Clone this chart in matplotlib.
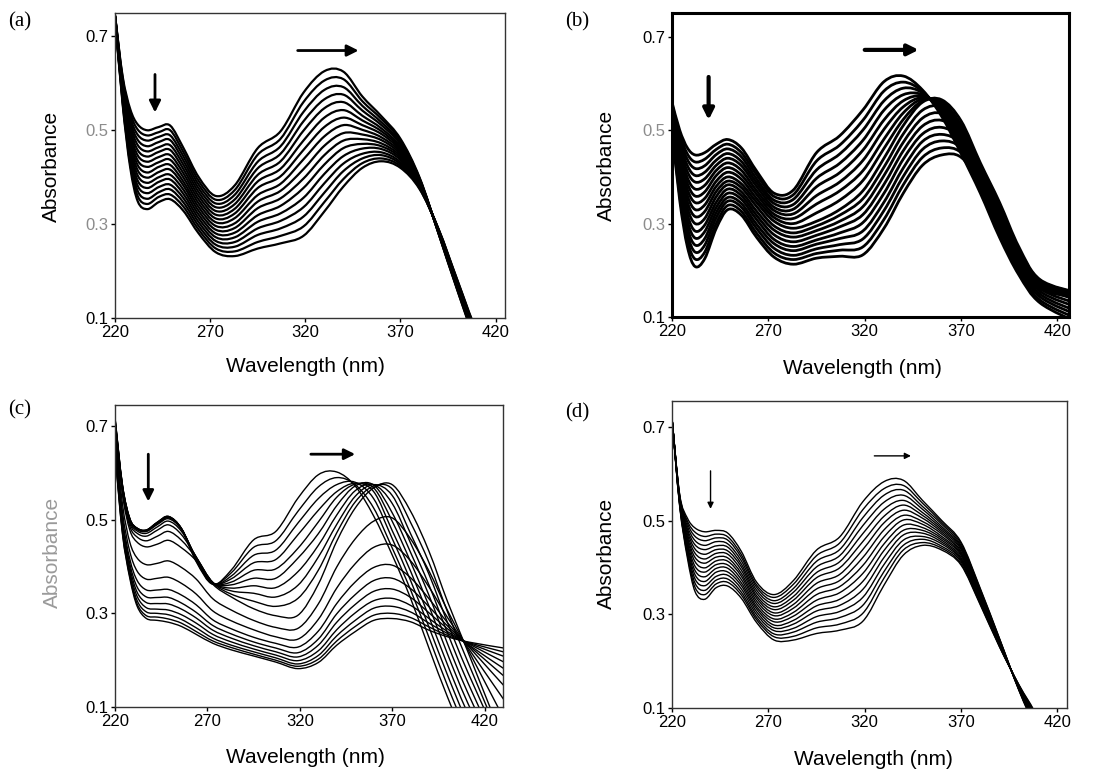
import numpy as np
import matplotlib.pyplot as plt
from matplotlib.path import Path
from matplotlib.patches import PathPatch

plt.rcParams['font.family'] = ['Liberation Sans', 'DejaVu Sans']

# wavelengths (nm) where each scan is sampled
wl = [220, 224, 228, 232, 237, 243, 249, 256, 264, 273, 283, 295,
      307, 319, 330, 340, 350, 360, 370, 380, 390, 400, 411, 432]

# absorbance x1000: one row per wavelength, one column per scan
scans_a = [
    [745, 745, 744, 744, 744, 743, 743, 743, 742, 742, 742, 741, 741, 741, 740, 740],
    [615, 611, 607, 603, 599, 595, 591, 587, 583, 579, 575, 571, 567, 563, 559, 555],
    [545, 537, 528, 520, 512, 503, 495, 487, 478, 470, 462, 453, 445, 437, 428, 420],
    [512, 501, 490, 479, 468, 457, 446, 435, 425, 414, 403, 392, 381, 370, 359, 348],
    [500, 489, 478, 466, 455, 444, 433, 422, 410, 399, 388, 377, 366, 354, 343, 332],
    [507, 496, 486, 475, 464, 454, 443, 432, 422, 411, 400, 390, 379, 368, 358, 347],
    [510, 500, 489, 479, 468, 458, 447, 437, 426, 416, 405, 395, 384, 374, 363, 353],
    [462, 453, 444, 435, 426, 417, 408, 399, 390, 382, 373, 364, 355, 346, 337, 328],
    [400, 392, 384, 376, 368, 360, 352, 344, 336, 328, 320, 312, 304, 296, 288, 280],
    [360, 352, 344, 336, 328, 320, 312, 304, 296, 288, 280, 272, 264, 256, 248, 240],
    [383, 373, 363, 353, 343, 333, 323, 313, 302, 292, 282, 272, 262, 252, 242, 232],
    [462, 448, 433, 419, 405, 391, 377, 362, 348, 334, 319, 305, 291, 277, 262, 248],
    [498, 482, 466, 450, 434, 418, 402, 386, 371, 355, 339, 323, 307, 291, 275, 259],
    [580, 560, 539, 519, 499, 478, 458, 438, 417, 397, 377, 356, 336, 316, 295, 275],
    [626, 606, 586, 566, 547, 527, 507, 487, 467, 447, 427, 407, 387, 367, 347, 327],
    [625, 609, 592, 576, 560, 543, 527, 511, 494, 478, 462, 445, 429, 413, 396, 380],
    [572, 562, 552, 542, 531, 521, 511, 501, 491, 481, 471, 461, 450, 440, 430, 420],
    [530, 524, 517, 511, 504, 498, 492, 485, 479, 472, 466, 460, 453, 447, 440, 434],
    [482, 478, 474, 470, 465, 461, 457, 453, 449, 445, 441, 437, 432, 428, 424, 420],
    [400, 398, 397, 395, 393, 392, 390, 388, 387, 385, 383, 382, 380, 378, 377, 375],
    [280, 281, 281, 282, 283, 283, 284, 285, 285, 286, 287, 287, 288, 289, 289, 290],
    [158, 159, 161, 162, 164, 165, 167, 168, 170, 171, 173, 174, 176, 177, 179, 180],
    [35, 37, 39, 40, 42, 44, 46, 48, 49, 51, 53, 55, 57, 58, 60, 62],
    [-150, -149, -147, -146, -145, -143, -142, -141, -139, -138, -137, -135, -134, -133, -131, -130],
]

scans_b = [
    [560, 556, 553, 549, 545, 541, 538, 534, 530, 526, 523, 519, 515, 511, 508, 504, 500],
    [500, 491, 483, 474, 465, 456, 448, 439, 430, 420, 410, 400, 390, 380, 370, 360, 350],
    [462, 449, 437, 424, 411, 398, 386, 373, 360, 346, 333, 319, 305, 291, 278, 264, 250],
    [447, 432, 418, 403, 389, 374, 359, 345, 330, 315, 300, 284, 269, 254, 239, 224, 208],
    [452, 438, 424, 410, 396, 382, 368, 354, 340, 326, 311, 297, 283, 268, 254, 239, 225],
    [470, 459, 448, 436, 425, 414, 403, 391, 380, 369, 358, 346, 335, 324, 313, 301, 290],
    [480, 470, 460, 450, 440, 430, 420, 410, 400, 391, 383, 374, 365, 356, 348, 339, 330],
    [462, 452, 443, 433, 424, 414, 404, 395, 385, 377, 368, 360, 352, 343, 335, 326, 318],
    [412, 404, 395, 387, 379, 370, 362, 353, 345, 336, 326, 317, 308, 298, 289, 279, 270],
    [365, 358, 350, 343, 335, 328, 320, 313, 305, 295, 286, 276, 266, 257, 247, 237, 228],
    [372, 362, 352, 341, 331, 321, 311, 300, 290, 280, 271, 261, 251, 242, 232, 223, 213],
    [452, 434, 415, 397, 379, 360, 342, 323, 305, 295, 285, 275, 265, 256, 246, 236, 226],
    [488, 468, 449, 429, 409, 389, 370, 350, 330, 318, 305, 293, 280, 268, 255, 243, 230],
    [543, 521, 500, 478, 457, 435, 413, 392, 370, 353, 336, 319, 302, 284, 267, 250, 233],
    [604, 584, 563, 543, 522, 502, 481, 461, 440, 421, 403, 384, 365, 346, 328, 309, 290],
    [616, 603, 590, 576, 563, 550, 537, 523, 510, 492, 474, 456, 438, 419, 401, 383, 365],
    [586, 583, 580, 576, 573, 570, 567, 563, 560, 543, 526, 509, 492, 476, 459, 442, 425],
    [529, 534, 538, 543, 547, 552, 556, 561, 565, 550, 536, 521, 506, 491, 477, 462, 447],
    [450, 459, 468, 476, 485, 494, 503, 511, 520, 510, 501, 491, 481, 471, 462, 452, 442],
    [365, 373, 381, 389, 398, 406, 414, 422, 430, 424, 419, 413, 408, 402, 396, 391, 385],
    [270, 279, 289, 298, 308, 317, 326, 336, 345, 339, 334, 328, 323, 317, 311, 306, 300],
    [190, 198, 205, 213, 220, 228, 235, 243, 250, 245, 240, 235, 230, 225, 220, 215, 210],
    [130, 136, 143, 149, 155, 161, 168, 174, 180, 178, 175, 173, 170, 168, 165, 163, 160],
    [85, 93, 101, 109, 118, 126, 134, 142, 150, 149, 148, 146, 145, 144, 143, 141, 140],
]

scans_c = [
    [718, 717, 715, 714, 712, 711, 709, 708, 706, 705, 689, 676, 666, 660, 654, 650, 646, 643, 640],
    [575, 574, 573, 572, 571, 569, 567, 564, 560, 555, 534, 517, 504, 496, 489, 483, 478, 473, 470],
    [503, 502, 502, 501, 500, 499, 496, 492, 486, 478, 452, 432, 416, 406, 398, 390, 384, 379, 375],
    [482, 482, 481, 481, 480, 479, 476, 471, 463, 452, 418, 390, 370, 356, 345, 336, 327, 320, 315],
    [478, 478, 478, 477, 476, 475, 471, 465, 455, 442, 404, 373, 350, 335, 323, 312, 303, 295, 289],
    [495, 495, 494, 493, 492, 490, 485, 478, 465, 448, 407, 375, 350, 334, 321, 309, 300, 292, 285],
    [507, 507, 506, 505, 504, 502, 497, 489, 475, 456, 412, 377, 351, 334, 320, 307, 297, 288, 281],
    [480, 481, 481, 481, 480, 479, 475, 468, 456, 440, 398, 364, 339, 322, 309, 297, 287, 279, 272],
    [410, 412, 414, 416, 418, 419, 420, 420, 418, 412, 373, 341, 318, 302, 290, 279, 269, 261, 255],
    [362, 363, 363, 364, 365, 365, 366, 366, 365, 362, 331, 305, 286, 274, 264, 255, 247, 241, 236],
    [393, 387, 380, 374, 367, 361, 354, 348, 341, 335, 307, 284, 267, 256, 247, 239, 232, 227, 222],
    [457, 441, 424, 408, 392, 375, 359, 343, 326, 310, 285, 265, 249, 239, 231, 224, 218, 213, 209],
    [475, 455, 435, 415, 395, 375, 355, 335, 315, 295, 270, 250, 236, 226, 218, 211, 205, 200, 196],
    [546, 518, 493, 468, 439, 418, 389, 360, 332, 296, 268, 245, 228, 216, 207, 199, 192, 187, 182],
    [596, 570, 545, 520, 495, 470, 445, 420, 392, 362, 320, 287, 262, 245, 232, 220, 210, 202, 195],
    [602, 590, 575, 560, 548, 530, 510, 490, 472, 454, 399, 354, 321, 299, 281, 265, 252, 241, 232],
    [572, 575, 580, 578, 576, 572, 562, 550, 538, 525, 459, 406, 367, 340, 319, 301, 285, 272, 261],
    [508, 525, 545, 560, 568, 574, 575, 575, 572, 568, 497, 441, 398, 370, 347, 327, 311, 296, 285],
    [425, 440, 460, 477, 497, 515, 535, 552, 566, 575, 504, 446, 403, 375, 352, 332, 315, 300, 289],
    [332, 350, 370, 390, 410, 430, 450, 470, 494, 518, 459, 412, 376, 353, 334, 317, 303, 291, 282],
    [225, 248, 270, 292, 315, 338, 360, 383, 408, 432, 390, 356, 331, 314, 301, 289, 279, 271, 264],
    [121, 145, 168, 190, 213, 235, 258, 280, 303, 325, 306, 291, 280, 273, 267, 261, 257, 253, 250],
    [20, 42, 64, 86, 108, 130, 152, 174, 196, 218, 223, 227, 231, 233, 234, 236, 237, 238, 239],
    [-150, -130, -110, -90, -70, -50, -30, -10, 0, 10, 64, 107, 139, 161, 178, 193, 206, 216, 225],
]

scans_d = [
    [718, 718, 718, 718, 718, 718, 718, 718, 718, 718, 718, 718, 718, 718, 718, 718],
    [555, 553, 552, 550, 548, 547, 545, 543, 542, 540, 538, 537, 535, 533, 532, 530],
    [505, 499, 494, 488, 482, 477, 471, 465, 460, 454, 448, 443, 437, 431, 426, 420],
    [484, 475, 466, 457, 448, 439, 430, 421, 412, 402, 393, 384, 375, 366, 357, 348],
    [476, 466, 457, 447, 438, 428, 418, 409, 399, 390, 380, 370, 361, 351, 342, 332],
    [479, 471, 463, 455, 446, 438, 430, 422, 414, 406, 398, 390, 381, 373, 365, 357],
    [473, 465, 458, 450, 443, 435, 428, 420, 413, 405, 398, 390, 383, 375, 368, 360],
    [434, 427, 421, 414, 407, 401, 394, 387, 381, 374, 367, 361, 354, 347, 341, 334],
    [368, 362, 357, 351, 345, 339, 334, 328, 322, 316, 311, 305, 299, 293, 288, 282],
    [342, 336, 329, 323, 316, 310, 303, 297, 290, 284, 277, 271, 265, 258, 252, 245],
    [372, 364, 355, 347, 338, 330, 321, 313, 304, 296, 287, 279, 270, 262, 253, 245],
    [437, 425, 413, 401, 389, 378, 366, 354, 342, 330, 318, 307, 295, 283, 271, 259],
    [465, 452, 438, 425, 412, 399, 385, 372, 359, 346, 332, 319, 306, 293, 279, 266],
    [540, 523, 506, 489, 472, 455, 438, 421, 404, 387, 370, 353, 336, 319, 302, 285],
    [583, 568, 554, 539, 524, 509, 495, 480, 465, 450, 436, 421, 406, 391, 377, 362],
    [586, 575, 565, 554, 543, 533, 522, 511, 501, 490, 479, 469, 458, 447, 437, 426],
    [543, 537, 530, 524, 517, 511, 505, 498, 492, 485, 479, 473, 466, 460, 453, 447],
    [500, 496, 492, 487, 483, 479, 475, 471, 466, 462, 458, 454, 450, 445, 441, 437],
    [454, 451, 447, 444, 441, 438, 434, 431, 428, 425, 421, 418, 415, 412, 408, 405],
    [355, 353, 350, 348, 346, 343, 341, 339, 336, 334, 332, 329, 327, 325, 322, 320],
    [248, 247, 246, 244, 243, 242, 241, 240, 238, 237, 236, 235, 234, 232, 231, 230],
    [138, 139, 140, 140, 141, 142, 143, 144, 144, 145, 146, 147, 148, 148, 149, 150],
    [35, 37, 40, 42, 44, 47, 49, 51, 54, 56, 58, 61, 63, 65, 68, 70],
    [-150, -148, -146, -144, -142, -140, -138, -136, -134, -132, -130, -128, -126, -124, -122, -120],
]

xticks = [220, 270, 320, 370, 420]
yticks = [0.1, 0.3, 0.5, 0.7]
ytick_labels = ['0.1', '0.3', '0.5', '0.7']


def smooth(x, y):
    # smoothed line through the sampled points (Catmull-Rom as cubic Beziers)
    pts = np.column_stack([x, y])
    ext = np.vstack([pts[0], pts, pts[-1]])
    verts, codes = [pts[0]], [Path.MOVETO]
    for i in range(len(pts) - 1):
        p0, p1, p2, p3 = ext[i], ext[i + 1], ext[i + 2], ext[i + 3]
        verts += [p1 + (p2 - p0) / 6, p2 - (p3 - p1) / 6, p2]
        codes += [Path.CURVE4] * 3
    return Path(verts, codes)


def draw_panel(ax, table, lw, xmax, ymax, frame_w, frame_c):
    spectra = np.array(table).T / 1000.0
    for s in spectra:
        ax.add_patch(PathPatch(smooth(wl, s), fill=False, ec='k', lw=lw,
                               joinstyle='round'))
    ax.set_xlim(220, xmax)
    ax.set_ylim(0.1, ymax)
    ax.set_xticks(xticks)
    ax.set_yticks(yticks)
    ax.set_yticklabels(ytick_labels)
    ax.tick_params(direction='out', length=3, width=1, pad=2, labelsize=12)
    for sp in ax.spines.values():
        sp.set_linewidth(frame_w)
        sp.set_color(frame_c)


def arrows(ax, down, right, lw, ms):
    style = dict(arrowstyle='-|>', color='k', lw=lw, mutation_scale=ms,
                 shrinkA=0, shrinkB=0)
    ax.annotate('', xy=down[1], xytext=down[0], arrowprops=style)
    ax.annotate('', xy=right[1], xytext=right[0], arrowprops=style)


fig = plt.figure(figsize=(11.04, 7.69), dpi=100)

ax_a = fig.add_axes([0.1042, 0.5865, 0.3533, 0.3966])
ax_b = fig.add_axes([0.6087, 0.5878, 0.3596, 0.3953])
ax_c = fig.add_axes([0.1042, 0.0806, 0.3514, 0.3927])
ax_d = fig.add_axes([0.6087, 0.0793, 0.3578, 0.3992])

draw_panel(ax_a, scans_a, 1.6, 425, 0.75, 1.0, '#333333')
draw_panel(ax_b, scans_b, 2.0, 426, 0.751, 2.2, 'black')
draw_panel(ax_c, scans_c, 1.0, 430, 0.745, 1.0, '#333333')
draw_panel(ax_d, scans_d, 1.0, 425, 0.755, 1.0, '#333333')

arrows(ax_a, [(241, 0.619), (241, 0.538)], [(316, 0.67), (348, 0.67)], 2.0, 17)
arrows(ax_b, [(239, 0.614), (239, 0.522)], [(320, 0.672), (348, 0.672)], 3.0, 16)
arrows(ax_c, [(238, 0.64), (238, 0.539)], [(326, 0.64), (350, 0.64)], 2.0, 16)
arrows(ax_d, [(240, 0.606), (240, 0.525)], [(325, 0.638), (344, 0.638)], 1.0, 9)

# axis titles
label_pos = {
    ax_a: ((0.487, -0.16), (-0.162, 0.498), 'black'),
    ax_b: ((0.479, -0.168), (-0.164, 0.497), 'black'),
    ax_c: ((0.491, -0.166), (-0.162, 0.513), '#9a9a9a'),
    ax_d: ((0.509, -0.169), (-0.165, 0.502), 'black'),
}
for ax, (xl, yl, ycol) in label_pos.items():
    ax.set_xlabel('Wavelength (nm)', fontsize=15, va='center')
    ax.xaxis.set_label_coords(*xl)
    ax.set_ylabel('Absorbance', fontsize=15, va='center', color=ycol)
    ax.yaxis.set_label_coords(*yl)

# washed-out tick labels on the upper panels
for ax in (ax_a, ax_b):
    for t in ax.get_yticklabels()[1:3]:
        t.set_color('#8c8c8c')

for txt, x, y in [('(a)', 8, 22), ('(b)', 565, 22), ('(c)', 8, 410), ('(d)', 565, 413)]:
    fig.text(x / 1104, 1 - y / 769, txt, family='Liberation Serif', fontsize=15,
             ha='left', va='center')

fig.savefig('out.png', dpi=100)
